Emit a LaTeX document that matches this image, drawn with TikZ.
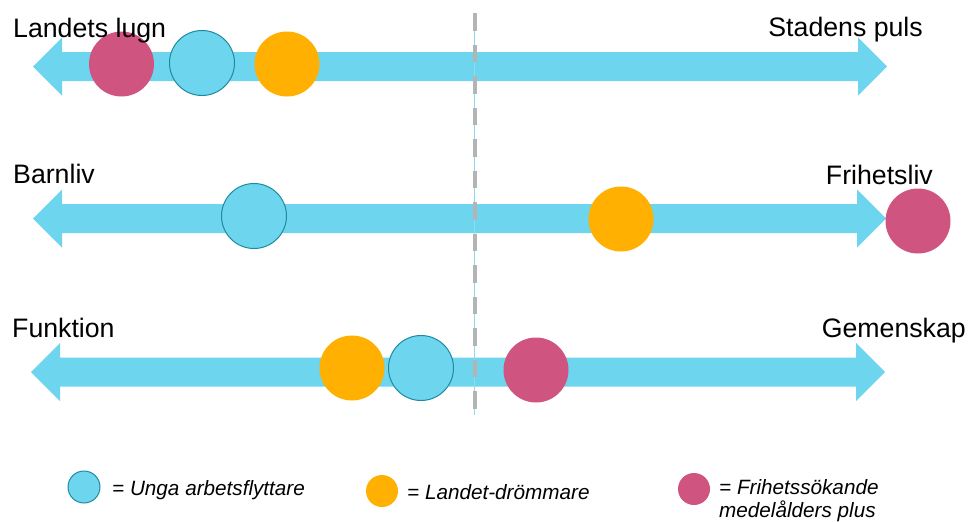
\documentclass[tikz,border=0pt]{standalone}
\usepackage{fontspec}
\setmainfont{Liberation Sans}
\definecolor{arrowcyan}{HTML}{6DD5ED}
\definecolor{rimteal}{HTML}{1E8AA0}
\definecolor{dotorange}{HTML}{FFB000}
\definecolor{dotpink}{HTML}{D05480}
\definecolor{dashgray}{HTML}{B4B4B4}
\definecolor{thinblue}{HTML}{8ADDF0}
\begin{document}
\begin{tikzpicture}[x=1pt,y=-1pt,
  axislabel/.style={inner sep=0pt,font=\fontsize{26.7}{32}\selectfont},
  legendtext/.style={inner sep=0pt,font=\fontsize{20.7}{22.5}\selectfont\itshape,align=left},
  dotcyan/.style={circle,inner sep=0pt,minimum size=65pt,fill=arrowcyan,draw=rimteal,line width=1pt},
  dotorangestyle/.style={circle,inner sep=0pt,minimum size=65pt,fill=dotorange},
  dotpinkstyle/.style={circle,inner sep=0pt,minimum size=65pt,fill=dotpink},
  legcyan/.style={dotcyan,minimum size=32pt},
  legorange/.style={dotorangestyle,minimum size=32pt},
  legpink/.style={dotpinkstyle,minimum size=32pt},
  bigarrow/.style={fill=arrowcyan,draw=none}]
\useasboundingbox (0,0) rectangle (970,522);
% double arrows: shaft half-height 14.5, head half-height 29, head length 29
\newcommand{\dblarrow}[3]{% left tip, right tip, centre y
  \fill[bigarrow] (#1,#3) -- (#1+29,#3-29) -- (#1+29,#3-14.5) -- (#2-29,#3-14.5)
    -- (#2-29,#3-29) -- (#2,#3) -- (#2-29,#3+29) -- (#2-29,#3+14.5)
    -- (#1+29,#3+14.5) -- (#1+29,#3+29) -- cycle;}
\dblarrow{33}{887}{66.5}
\dblarrow{33}{886}{218.5}
\dblarrow{31}{885}{372}
% divider
\coordinate (dtop) at (474.5,13);
\coordinate (dbot) at (474.5,415);
\draw[thinblue,line width=1pt] (dtop) -- (dbot);
\draw[dashgray,line width=4pt,dash pattern=on 17.5pt off 14pt] (dtop) -- (dbot);
% row 1
\node[dotpinkstyle] (p1) at (121.5,64) {};
\node[dotcyan] (c1) at (202,63) {};
\node[dotorangestyle] (o1) at (287,64) {};
% row 2
\node[dotcyan] (c2) at (254,216) {};
\node[dotorangestyle] (o2) at (621,219) {};
\node[dotpinkstyle] (p2) at (918,221) {};
% row 3
\node[dotorangestyle] (o3) at (352,368) {};
\node[dotcyan] (c3) at (421,368) {};
\node[dotpinkstyle] (p3) at (536,370) {};
% labels
\node[axislabel,anchor=base west] (l1) at (13,37) {Landets lugn};
\node[axislabel,anchor=base east] (r1) at (923,36) {Stadens puls};
\node[axislabel,anchor=base west] (l2) at (13,183) {Barnliv};
\node[axislabel,anchor=base east] (r2) at (933,184) {Frihetsliv};
\node[axislabel,anchor=base west] (l3) at (12,337) {Funktion};
\node[axislabel,anchor=base east] (r3) at (966,337) {Gemenskap};
% legend
\node[legcyan] (k1) at (84,487) {};
\node[legendtext,anchor=base west] (t1) at (112,495) {= Unga arbetsflyttare};
\node[legorange] (k2) at (382,491) {};
\node[legendtext,anchor=base west] (t2) at (407,499) {= Landet-drömmare};
\node[legpink] (k3) at (694,489) {};
\node[legendtext,anchor=base west] (t3) at (719,517) {= Frihetssökande\\medelålders plus};
\end{tikzpicture}
\end{document}
